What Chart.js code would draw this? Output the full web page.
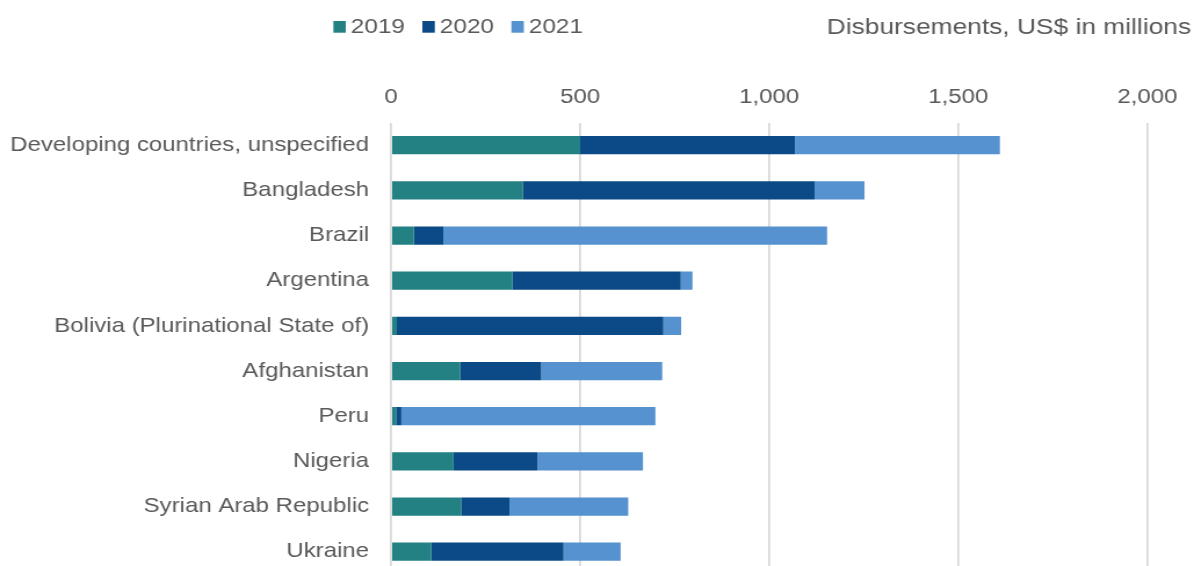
<!DOCTYPE html>
<html>
<head>
<meta charset="utf-8">
<script src="https://cdn.jsdelivr.net/npm/chart.js@4"></script>
<style>
  html, body { margin: 0; padding: 0; background: #fff; overflow: hidden; }
  /* chart is laid out narrower and stretched sideways to the page width */
  #wrap { width: 1029px; height: 580px; transform: scaleX(1.1603); transform-origin: 0 0; }
</style>
</head>
<body>
<div id="wrap"><canvas id="disb" width="1029" height="580"></canvas></div>
<script>
try {

    // Disbursements by recipient, US$ millions
    const countries = [
      'Developing countries, unspecified',
      'Bangladesh',
      'Brazil',
      'Argentina',
      'Bolivia (Plurinational State of)',
      'Afghanistan',
      'Peru',
      'Nigeria',
      'Syrian Arab Republic',
      'Ukraine'
    ];
    const years = ['2019', '2020', '2021'];
    const values2019 = [500, 349, 60, 321, 15, 183, 13, 165, 185, 106];
    const values2020 = [568, 771, 78, 445, 705, 214, 14, 222, 128, 350];
    const values2021 = [542, 132, 1015, 31, 47, 320, 672, 279, 314, 151];
    const axisTicks = [0, 500, 1000, 1500, 2000];
    const unitLabel = 'Disbursements, US$ in millions';

    const colors = ['#238183', '#0b4a86', '#5592cf'];
    const textColor = '#595959';
    const fontFamily = '"Liberation Sans", Arial, sans-serif';

    // legend row and unit label drawn across the top
    const headerPlugin = {
      id: 'header',
      afterDraw(chart) {
        const ctx = chart.ctx;
        ctx.save();
        ctx.font = '21px ' + fontFamily;
        ctx.textBaseline = 'middle';
        ctx.textAlign = 'left';
        let x = 287.3;
        chart.data.datasets.forEach(ds => {
          ctx.fillStyle = ds.backgroundColor;
          ctx.fillRect(x, 21, 10.7, 11.7);
          x += 15;
          ctx.fillStyle = textColor;
          ctx.fillText(ds.label, x, 27.5);
          x += ctx.measureText(ds.label).width + 15;
        });
        ctx.font = '22.7px ' + fontFamily;
        ctx.textAlign = 'right';
        ctx.fillText(unitLabel, 1026.5, 28);
        ctx.restore();
      }
    };

    const ctx = document.getElementById('disb').getContext('2d');
    new Chart(ctx, {
      type: 'bar',
      data: {
        labels: countries,
        datasets: [
          { label: years[0], data: values2019, backgroundColor: colors[0] },
          { label: years[1], data: values2020, backgroundColor: colors[1] },
          { label: years[2], data: values2021, backgroundColor: colors[2] }
        ]
      },
      options: {
        indexAxis: 'y',
        responsive: false,
        animation: false,
        layout: { padding: { left: 0, right: 40.2, top: 72.6, bottom: 5.7 } },
        datasets: {
          bar: { categoryPercentage: 1, barPercentage: 0.405, borderWidth: 0 }
        },
        plugins: {
          legend: { display: false },
          tooltip: { enabled: false }
        },
        scales: {
          x: {
            position: 'top',
            stacked: true,
            min: 0,
            max: 2000,
            afterBuildTicks: axis => { axis.ticks = axisTicks.map(v => ({ value: v })); },
            afterFit: axis => { axis.height = 50; },
            grid: { color: '#d9d9d9', lineWidth: 1.75, drawTicks: false },
            border: { display: false },
            ticks: {
              padding: 13,
              color: textColor,
              font: { family: fontFamily, size: 20.7 },
              callback: v => Number(v).toLocaleString('en-US')
            }
          },
          y: {
            stacked: true,
            afterFit: axis => {
              axis.width = 337.1;
              // no extra room above/below the category band
              axis.paddingTop = 0;
              axis.paddingBottom = 0;
            },
            grid: { display: false, drawTicks: false },
            border: { display: false },
            ticks: {
              padding: 19,
              color: textColor,
              font: { family: fontFamily, size: 20.7 }
            }
          }
        }
      },
      plugins: [headerPlugin]
    });

} catch (e) {
    console.log(e);
}
</script>
</body>
</html>
